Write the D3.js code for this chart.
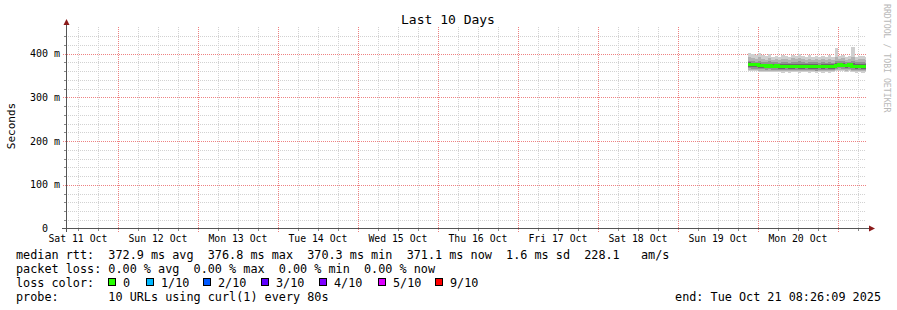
<!DOCTYPE html>
<html><head><meta charset="utf-8">
<script src="https://cdn.jsdelivr.net/npm/d3@7"></script>
<style>
html,body{margin:0;padding:0;background:#fff;}
svg{display:block;}
text{font-family:"DejaVu Sans Mono",monospace;white-space:pre;}
</style></head>
<body>
<svg id="c" width="897" height="310"></svg>
<script>
// ---------- data ----------
const title = "Last 10 Days";
const yAxisTitle = "Seconds";
const endTime = "2025-10-21T08:26:09Z";
const firstSample = "2025-10-19T21:00:00Z"; // hourly samples
const yTickValues = [0, 100, 200, 300, 400];
const yTickLabels = ["  0  ", "100 m", "200 m", "300 m", "400 m"];
const xTickLabels = ["Sat 11 Oct","Sun 12 Oct","Mon 13 Oct","Tue 14 Oct","Wed 15 Oct","Thu 16 Oct","Fri 17 Oct","Sat 18 Oct","Sun 19 Oct","Mon 20 Oct"];

// ping distribution per hourly sample (ms)
const pingMax = [401,399,397,402,396,394,398,393,395,392,396,394,393,397,395,399,394,392,396,393,394,391,395,393,396,392,413,394,396,393,395,416,393,395,394,392];
const ping9   = [391,390,388,391,388,386,389,386,388,385,388,387,386,389,387,390,387,385,388,386,387,385,387,386,388,386,392,388,389,386,388,391,386,388,387,386];
const ping8   = [384,383,381,383,381,380,382,380,381,379,381,380,379,381,380,382,380,379,381,380,380,378,380,379,381,379,384,382,382,380,381,383,380,381,380,379];
const ping7   = [380,379,378,379,377,376,377,376,377,375,376,376,375,376,375,377,376,375,376,375,376,374,376,375,376,375,379,379,378,377,378,378,375,376,375,375];
const median  = [376,375,375,374,373,372,373,372,373,372,371,372,371,371,372,371,371,372,371,371,371,372,371,372,371,371,374,375,374,373,375,372,371,372,371,371.1];
const ping4   = [369,368,368,367,367,366,367,366,366,365,365,366,365,365,366,365,365,366,365,365,364,366,365,366,365,365,368,369,368,367,368,366,365,366,365,365];
const ping3   = [366,365,365,364,364,363,364,363,363,362,362,363,362,362,363,362,362,363,362,362,361,363,362,363,362,362,365,366,365,364,365,363,362,363,362,362];
const ping2   = [363,362,362,361,361,360,361,360,361,360,359,360,359,359,360,359,359,360,359,359,359,360,359,360,359,359,362,363,362,361,362,360,359,360,359,359];
const pingMin = [360,359,359,358,358,357,358,357,358,357,356,357,356,357,357,356,357,357,356,357,356,357,356,357,356,357,359,360,359,358,359,357,356,357,356,357];

const lossLabels = ["0","1/10","2/10","3/10","4/10","5/10","9/10"];
const lossColors = ["#26ff00","#00b8ff","#0059ff","#5e00ff","#7e00ff","#dd00ff","#ff0000"];
const legendLines = [
  "median rtt:  372.9 ms avg  376.8 ms max  370.3 ms min  371.1 ms now  1.6 ms sd  228.1   am/s",
  "packet loss: 0.00 % avg  0.00 % max  0.00 % min  0.00 % now",
  "loss color:",
  "probe:       10 URLs using curl(1) every 80s"
];
const endLabel = "end: Tue Oct 21 08:26:09 2025";
const sideLabel = "RRDTOOL / TOBI OETIKER";

// ---------- drawing ----------
const svg = d3.select("#c");
const tEnd = new Date(endTime);
const tStart = new Date(+tEnd - 10*86400e3);
const x = d3.scaleUtc().domain([tStart, tEnd]).range([66, 866]);
const y = d3.scaleLinear().domain([0, 460]).range([228.5, 27.25]);
const L = 66, R = 866, T = 27, B = 228.5;

// grid
const g = svg.append("g").attr("shape-rendering","crispEdges");
const minorX = d3.utcHour.every(6).range(tStart, tEnd).filter(d => d.getUTCHours() !== 0);
const majorX = d3.utcDay.range(tStart, tEnd);
const minorY = d3.range(20, 460, 20).filter(v => v % 100 !== 0);
const majorY = yTickValues.filter(v => v > 0);

g.selectAll(".mnx").data(minorX).join("line")
  .attr("x1", d => Math.round(x(d)) + 0.5).attr("x2", d => Math.round(x(d)) + 0.5)
  .attr("y1", T).attr("y2", B).attr("stroke", "#d2d2d2").attr("stroke-dasharray", "1,1");
g.selectAll(".mny").data(minorY).join("line")
  .attr("x1", L).attr("x2", R)
  .attr("y1", d => Math.round(y(d)) + 0.5).attr("y2", d => Math.round(y(d)) + 0.5)
  .attr("stroke", "#d2d2d2").attr("stroke-dasharray", "1,1");
g.selectAll(".mjx").data(majorX).join("line")
  .attr("x1", d => Math.round(x(d)) + 0.5).attr("x2", d => Math.round(x(d)) + 0.5)
  .attr("y1", T).attr("y2", B + 3).attr("stroke", "#ee8282").attr("stroke-dasharray", "1,1");
g.selectAll(".mjy").data(majorY).join("line")
  .attr("x1", L - 3).attr("x2", R)
  .attr("y1", d => Math.round(y(d)) + 0.5).attr("y2", d => Math.round(y(d)) + 0.5)
  .attr("stroke", "#ee8282").attr("stroke-dasharray", "1,1");

// smoke
const times = median.map((_, i) => d3.utcHour.offset(new Date(firstSample), i));
const defs = svg.append("defs");
defs.append("clipPath").attr("id","clip").append("rect").attr("x", L).attr("y", 0).attr("width", R - L).attr("height", 240);
const plot = svg.append("g").attr("clip-path","url(#clip)").attr("shape-rendering","crispEdges");
const bands = [
  [pingMin, pingMax, "#cfcfcf"],
  [ping2, ping9, "#b2b2b2"],
  [ping3, ping8, "#929292"],
  [ping4, ping7, "#6a6a6a"]
];
const step = 3600e3;
bands.forEach(([lo, hi, col]) => {
  plot.append("g").selectAll("rect").data(times).join("rect")
    .attr("x", d => Math.round(x(d)))
    .attr("width", d => Math.round(x(new Date(+d + step))) - Math.round(x(d)))
    .attr("y", (d, i) => Math.round(y(hi[i])))
    .attr("height", (d, i) => Math.max(1, Math.round(y(lo[i])) - Math.round(y(hi[i]))))
    .attr("fill", col);
});
const medPts = times.map((t, i) => [t, median[i]]);
medPts.push([new Date(+times[times.length - 1] + step), median[median.length - 1]]);
plot.append("path")
  .attr("d", d3.line().x(d => Math.round(x(d[0]))).y(d => Math.round(y(d[1])) + 0.5).curve(d3.curveStepAfter)(medPts))
  .attr("fill", "none").attr("stroke", lossColors[0]).attr("stroke-width", 3);

// axes
const ax = svg.append("g").attr("shape-rendering","crispEdges");
ax.append("line").attr("x1", 62).attr("x2", 870).attr("y1", 228.5).attr("y2", 228.5).attr("stroke", "#555");
ax.append("line").attr("x1", 66.5).attr("x2", 66.5).attr("y1", 232).attr("y2", 24).attr("stroke", "#555");
svg.append("path").attr("d", "M869,225.5 L875,228.5 L869,231.5 Z").attr("fill", "#8b1a1a");
svg.append("path").attr("d", "M63.5,25 L66.5,19 L69.5,25 Z").attr("fill", "#8b1a1a");
// small ticks
ax.selectAll(".ty").data(minorY).join("line")
  .attr("x1", 64).attr("x2", 66).attr("y1", d => Math.round(y(d)) + 0.5).attr("y2", d => Math.round(y(d)) + 0.5)
  .attr("stroke", "#888");
ax.selectAll(".tx").data(minorX).join("line")
  .attr("x1", d => Math.round(x(d)) + 0.5).attr("x2", d => Math.round(x(d)) + 0.5).attr("y1", 229).attr("y2", 231)
  .attr("stroke", "#888");

// y tick labels
svg.selectAll(".yl").data(yTickValues).join("text")
  .attr("x", 60).attr("y", d => y(d) + 3.5).attr("text-anchor", "end")
  .attr("font-size", "10px").attr("fill", "#000")
  .text((d, i) => yTickLabels[i]);

// x tick labels (centered at noon)
const noons = d3.utcDay.range(d3.utcDay.floor(tStart), tEnd).map(d => d3.utcHour.offset(d, 12)).filter(d => d >= tStart && d <= tEnd).slice(0, xTickLabels.length);
svg.selectAll(".xl").data(noons).join("text")
  .attr("x", d => x(d)).attr("y", 241.5).attr("text-anchor", "middle")
  .attr("font-size", "9.8px").attr("fill", "#000")
  .text((d, i) => xTickLabels[i]);

// title
svg.append("text").attr("x", 448).attr("y", 24).attr("text-anchor", "middle")
  .attr("font-size", "13px").attr("fill", "#000").text(title);
// y axis title
svg.append("text").attr("transform", "translate(15,126) rotate(-90)").attr("text-anchor", "middle")
  .attr("font-size", "11px").attr("fill", "#000").text(yAxisTitle);
// side label
svg.append("text").attr("transform", "translate(884,4) rotate(90)").attr("text-anchor", "start")
  .attr("font-size", "8.2px").attr("fill", "#b8b8b8").text(sideLabel);

// legend
const legY = [258.5, 272.5, 286.5, 300.5];
svg.selectAll(".lg").data(legendLines).join("text")
  .attr("x", 16).attr("y", (d, i) => legY[i]).attr("font-size", "11.8px").attr("fill", "#000")
  .text(d => d);
const boxX = [108, 146, 203, 261, 319, 378, 435];
const lg = svg.append("g");
lg.selectAll("rect").data(lossColors).join("rect")
  .attr("x", (d, i) => boxX[i] + 0.5).attr("y", 278.5).attr("width", 7).attr("height", 7)
  .attr("fill", d => d).attr("stroke", "#000").attr("shape-rendering","crispEdges");
lg.selectAll("text").data(lossLabels).join("text")
  .attr("x", (d, i) => boxX[i] + 15).attr("y", legY[2]).attr("font-size", "11.8px").attr("fill", "#000")
  .text(d => d);
svg.append("text").attr("x", 881).attr("y", legY[3]).attr("text-anchor", "end")
  .attr("font-size", "11.8px").attr("fill", "#000").text(endLabel);
</script>
</body></html>
